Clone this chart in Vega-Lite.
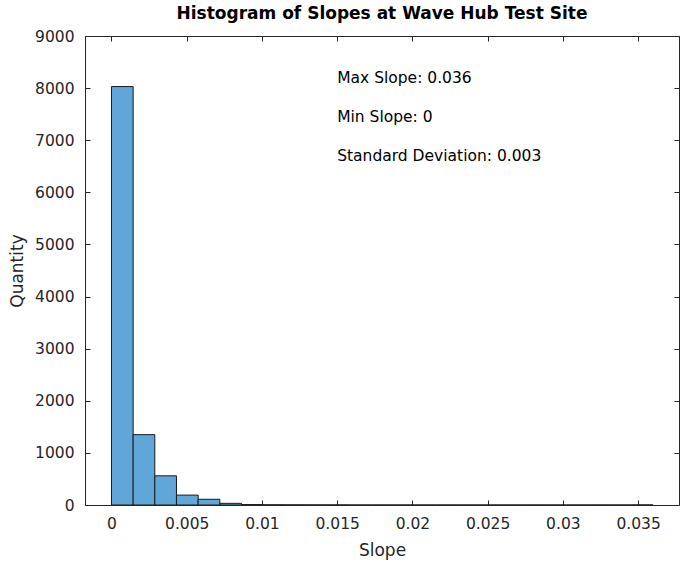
{
  "$schema": "https://vega.github.io/schema/vega-lite/v6.json",
  "width": 594,
  "height": 469,
  "autosize": {"type": "none"},
  "padding": {"left": 85, "top": 36, "right": 7, "bottom": 64},
  "background": "white",
  "config": {
    "view": {"stroke": null},
    "font": "DejaVu Sans",
    "axis": {
      "grid": false,
      "domainColor": "#262626",
      "domainWidth": 1,
      "tickColor": "#262626",
      "tickWidth": 1,
      "labelColor": "#262626",
      "labelFont": "DejaVu Sans",
      "labelFontSize": 15.5,
      "titleFont": "DejaVu Sans",
      "titleFontSize": 17,
      "titleFontWeight": "normal",
      "titleColor": "#262626"
    }
  },
  "title": {
    "text": "Histogram of Slopes at Wave Hub Test Site",
    "font": "DejaVu Sans",
    "fontSize": 17,
    "fontWeight": "bold",
    "color": "#000000",
    "anchor": "middle",
    "offset": 6
  },
  "datasets": {
    "bins": [
      {"x0": 0, "x1": 0.00144, "count": 8030},
      {"x0": 0.00144, "x1": 0.00288, "count": 1350},
      {"x0": 0.00288, "x1": 0.00432, "count": 560},
      {"x0": 0.00432, "x1": 0.00576, "count": 190},
      {"x0": 0.00576, "x1": 0.0072, "count": 110},
      {"x0": 0.0072, "x1": 0.00864, "count": 32},
      {"x0": 0.00864, "x1": 0.01008, "count": 8},
      {"x0": 0.01008, "x1": 0.01152, "count": 3},
      {"x0": 0.01152, "x1": 0.01296, "count": 2},
      {"x0": 0.01296, "x1": 0.0144, "count": 1},
      {"x0": 0.0144, "x1": 0.01584, "count": 1},
      {"x0": 0.01584, "x1": 0.01728, "count": 0},
      {"x0": 0.01728, "x1": 0.01872, "count": 0},
      {"x0": 0.01872, "x1": 0.02016, "count": 0},
      {"x0": 0.02016, "x1": 0.0216, "count": 0},
      {"x0": 0.0216, "x1": 0.02304, "count": 0},
      {"x0": 0.02304, "x1": 0.02448, "count": 0},
      {"x0": 0.02448, "x1": 0.02592, "count": 0},
      {"x0": 0.02592, "x1": 0.02736, "count": 0},
      {"x0": 0.02736, "x1": 0.0288, "count": 0},
      {"x0": 0.0288, "x1": 0.03024, "count": 0},
      {"x0": 0.03024, "x1": 0.03168, "count": 0},
      {"x0": 0.03168, "x1": 0.03312, "count": 0},
      {"x0": 0.03312, "x1": 0.03456, "count": 0},
      {"x0": 0.03456, "x1": 0.036, "count": 1}
    ],
    "notes": [
      {"x": 0.015, "y": 8200, "label": "Max Slope: 0.036"},
      {"x": 0.015, "y": 7450, "label": "Min Slope: 0"},
      {"x": 0.015, "y": 6700, "label": "Standard Deviation: 0.003"}
    ]
  },
  "layer": [
    {
      "data": {"name": "bins"},
      "mark": {"type": "bar", "fill": "#60A6D9", "stroke": "#1a1a1a", "strokeWidth": 1, "clip": true},
      "encoding": {
        "x": {
          "field": "x0", "type": "quantitative",
          "scale": {"domain": [-0.00176, 0.03772], "nice": false, "zero": false},
          "axis": {"orient": "bottom", "title": "Slope", "values": [0, 0.005, 0.01, 0.015, 0.02, 0.025, 0.03, 0.035], "format": "~g", "tickSize": -5, "labelPadding": 16, "titlePadding": 11}
        },
        "x2": {"field": "x1"},
        "y": {
          "field": "count", "type": "quantitative",
          "scale": {"domain": [0, 9000], "nice": false},
          "axis": {"orient": "left", "title": "Quantity", "values": [0, 1000, 2000, 3000, 4000, 5000, 6000, 7000, 8000, 9000], "format": "d", "tickSize": -5, "labelPadding": 16, "titlePadding": 8}
        },
        "y2": {"datum": 0}
      }
    },
    {
      "data": {"name": "bins"},
      "mark": {"type": "point", "opacity": 0},
      "encoding": {
        "x": {
          "field": "x0", "type": "quantitative",
          "axis": {"orient": "top", "title": null, "labels": false, "values": [0, 0.005, 0.01, 0.015, 0.02, 0.025, 0.03, 0.035], "tickSize": -5}
        },
        "y": {
          "field": "count", "type": "quantitative",
          "axis": {"orient": "right", "title": null, "labels": false, "values": [0, 1000, 2000, 3000, 4000, 5000, 6000, 7000, 8000, 9000], "tickSize": -5}
        }
      }
    },
    {
      "data": {"name": "notes"},
      "mark": {"type": "text", "align": "left", "baseline": "middle", "font": "DejaVu Sans", "fontSize": 15.5, "color": "#000000"},
      "encoding": {
        "x": {"field": "x", "type": "quantitative", "axis": null},
        "y": {"field": "y", "type": "quantitative", "axis": null},
        "text": {"field": "label"}
      }
    }
  ],
  "resolve": {"axis": {"x": "independent", "y": "independent"}}
}
